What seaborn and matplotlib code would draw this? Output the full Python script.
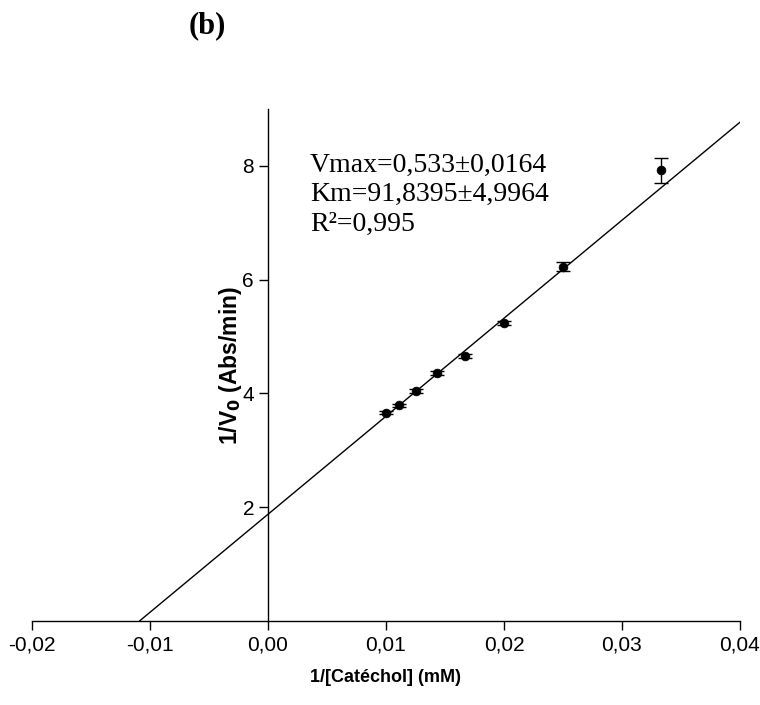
import matplotlib
matplotlib.use("Agg")
import matplotlib.pyplot as plt
import seaborn as sns
import numpy as np
import pandas as pd

# ---- data ----
inv_s = [0.0100, 0.0111, 0.0125, 0.0143, 0.0167, 0.0200, 0.0250, 0.0333]
inv_v = [3.66, 3.79, 4.04, 4.36, 4.66, 5.24, 6.23, 7.92]
inv_v_err = [0.03, 0.03, 0.04, 0.03, 0.03, 0.03, 0.08, 0.22]
vmax = 0.533
km = 91.8395
x_ticks = [-0.02, -0.01, 0.00, 0.01, 0.02, 0.03, 0.04]
x_tick_labels = ["-0,02", "-0,01", "0,00", "0,01", "0,02", "0,03", "0,04"]
y_ticks = [2, 4, 6, 8]
y_tick_labels = ["2", "4", "6", "8"]
annot_lines = ["Vmax=0,533\u00b10,0164", "Km=91,8395\u00b14,9964", "R\u00b2=0,995"]

df = pd.DataFrame({"x": inv_s, "y": inv_v, "err": inv_v_err})
fit_x = np.array([-1.0 / km, 0.04])
fit = pd.DataFrame({"x": fit_x, "y": 1.0 / vmax + (km / vmax) * fit_x})

sns.set_theme(style="white")
plt.rcParams["font.family"] = ["Liberation Sans", "DejaVu Sans"]

fig = plt.figure(figsize=(7.6, 7.05), dpi=100)
ax = fig.add_axes([32 / 760, 1 - 621 / 705, 708 / 760, 512 / 705])

sns.lineplot(data=fit, x="x", y="y", ax=ax, color="black", linewidth=1.0)
ax.errorbar(df["x"], df["y"], yerr=df["err"], fmt="none", ecolor="black",
            elinewidth=1.0, capsize=5, capthick=1.0, zorder=3)
sns.scatterplot(data=df, x="x", y="y", ax=ax, color="black", s=40,
                edgecolor="black", zorder=4)

ax.set_xlim(-0.02, 0.04)
ax.set_ylim(0, 9)
ax.spines["top"].set_visible(False)
ax.spines["right"].set_visible(False)
ax.spines["left"].set_position(("data", 0))
for sp in ["left", "bottom"]:
    ax.spines[sp].set_color("black")
    ax.spines[sp].set_linewidth(1.0)

ax.set_xticks(x_ticks)
ax.set_xticklabels(x_tick_labels)
ax.set_yticks(y_ticks)
ax.set_yticklabels(y_tick_labels)
ax.tick_params(axis="both", which="major", direction="out", length=6.5, width=1.0,
               color="black", labelsize=15, labelcolor="black", bottom=True, left=True)
ax.tick_params(axis="x", pad=4)

ax.set_xlabel("1/[Catéchol] (mM)", fontsize=13, fontweight="bold", color="black")
ax.set_ylabel("1/V$_\\mathbf{0}$ (Abs/min)", fontsize=16.5, fontweight="bold", color="black")
ax.xaxis.set_label_coords(0.5, -0.093)
ax.yaxis.set_label_coords((244 - 32) / 708, 0.5)

ax.text(0.00355, 7.49, "\n".join(annot_lines), fontsize=20, family=["Liberation Serif"],
        color="black", va="center", ha="left", linespacing=1.25)

fig.text(207 / 760, 1 - 26 / 705, "(b)", fontsize=22, fontweight="bold",
         family=["Liberation Serif"], ha="center", va="center", color="black")

fig.savefig("out.png", dpi=100, facecolor="white")
